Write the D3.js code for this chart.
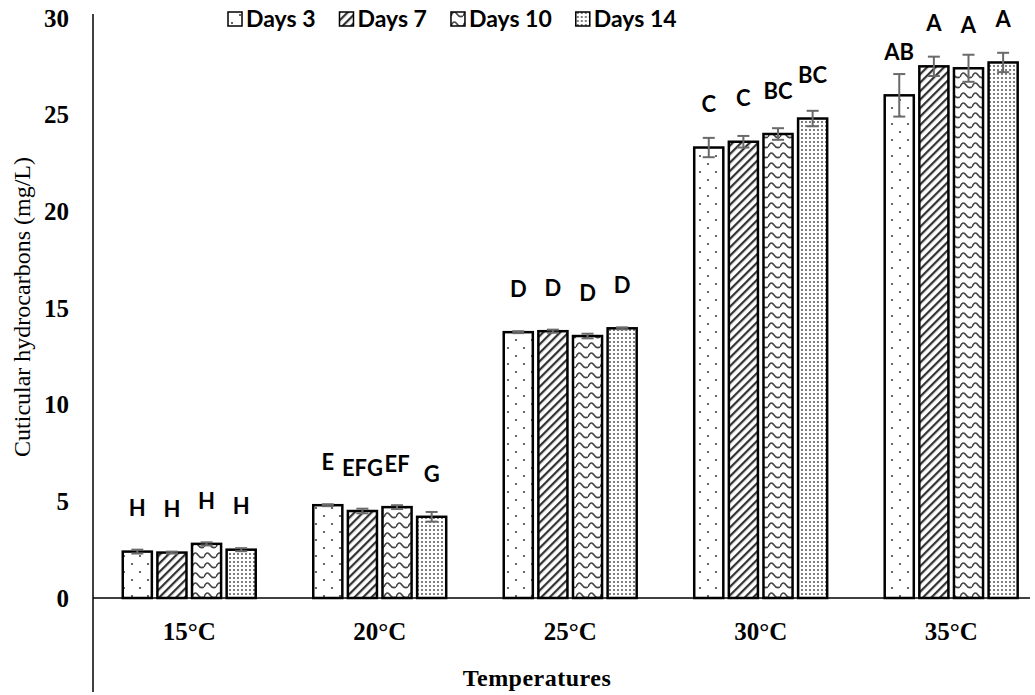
<!DOCTYPE html>
<head>
  <meta charset="utf-8">
  <script src="https://d3js.org/d3.v7.min.js"></script>
  <style>
    body { margin:0; background:white; }
    svg { display:block; }
    .tick text { font-family: "Liberation Serif", serif; font-weight: bold; font-size: 25px; }
  </style>
</head>
<body>
<script>
// data
var temps = ["15°C", "20°C", "25°C", "30°C", "35°C"];
var series = ["Days 3", "Days 7", "Days 10", "Days 14"];
var day3  = [2.4, 4.8, 13.75, 23.3, 26.0];
var day7  = [2.35, 4.5, 13.8, 23.6, 27.5];
var day10 = [2.8, 4.7, 13.55, 24.0, 27.4];
var day14 = [2.5, 4.2, 13.95, 24.8, 27.7];
var err3  = [0.1, 0.05, 0.05, 0.5, 1.1];
var err7  = [0.05, 0.12, 0.08, 0.3, 0.5];
var err10 = [0.08, 0.1, 0.12, 0.3, 0.7];
var err14 = [0.08, 0.25, 0.05, 0.4, 0.5];
var let3  = ["H", "E", "D", "C", "AB"];
var let7  = ["H", "EFG", "D", "C", "A"];
var let10 = ["H", "EF", "D", "BC", "A"];
var let14 = ["H", "G", "D", "BC", "A"];
var yTicks = [0, 5, 10, 15, 20, 25, 30];

var vals = [day3, day7, day10, day14];
var errs = [err3, err7, err10, err14];
var lets = [let3, let7, let10, let14];

var width = 1035, height = 695;
var svg = d3.select("body").append("svg").attr("width", width).attr("height", height);

// fill patterns
var defs = svg.append("defs");
var p0 = defs.append("pattern").attr("id", "pat0").attr("patternUnits", "userSpaceOnUse")
  .attr("width", 16).attr("height", 16);
p0.append("rect").attr("width", 16).attr("height", 16).attr("fill", "white");
p0.append("circle").attr("cx", 4).attr("cy", 4).attr("r", 1.1).attr("fill", "#444");
p0.append("circle").attr("cx", 12).attr("cy", 12).attr("r", 1.1).attr("fill", "#444");

var p1 = defs.append("pattern").attr("id", "pat1").attr("patternUnits", "userSpaceOnUse")
  .attr("width", 6).attr("height", 6).attr("patternTransform", "rotate(45)");
p1.append("rect").attr("width", 6).attr("height", 6).attr("fill", "white");
p1.append("line").attr("x1", 0).attr("y1", 0).attr("x2", 0).attr("y2", 6)
  .attr("stroke", "#333").attr("stroke-width", 4.5);

var p2 = defs.append("pattern").attr("id", "pat2").attr("patternUnits", "userSpaceOnUse")
  .attr("width", 12).attr("height", 10);
p2.append("rect").attr("width", 12).attr("height", 10).attr("fill", "white");
p2.append("path").attr("d", "M0,7 Q3,1 6,4 Q9,7 12,7")
  .attr("d", "M0,7 C2,2 4,2 6,5 C8,8 10,8 12,7")
  .attr("fill", "none").attr("stroke", "#444").attr("stroke-width", 1.6);

var p3 = defs.append("pattern").attr("id", "pat3").attr("patternUnits", "userSpaceOnUse")
  .attr("width", 4).attr("height", 4);
p3.append("rect").attr("width", 4).attr("height", 4).attr("fill", "white");
p3.append("circle").attr("cx", 2).attr("cy", 2).attr("r", 1).attr("fill", "#555");

var x0 = d3.scaleBand().domain(temps).range([93, 1030])
  .paddingInner(0.302).paddingOuter(0.1105).align(0.707);
var x1 = d3.scaleBand().domain(series).range([0, x0.bandwidth()]).paddingInner(0.16);
var y = d3.scaleLinear().domain([0, 30]).range([598, 18]);

// y axis
var yAxis = svg.append("g").attr("transform", "translate(93,0)")
  .call(d3.axisLeft(y).tickValues(yTicks).tickSize(0).tickPadding(24));
yAxis.select(".domain").remove();
svg.append("line").attr("x1", 93).attr("x2", 93).attr("y1", y(30) - 4).attr("y2", 692)
  .attr("stroke", "black").attr("stroke-width", 1.5);

series.forEach(function(s, si) {
  var rows = temps.map(function(t, ti) {
    return { t: t, v: vals[si][ti], e: errs[si][ti], l: lets[si][ti] };
  });
  var bx = function(d) { return x0(d.t) + x1(s); };
  var cx = function(d) { return x0(d.t) + x1(s) + x1.bandwidth() / 2; };

  svg.selectAll("rect.b" + si).data(rows).enter().append("rect")
    .attr("class", "b" + si)
    .attr("x", bx).attr("width", x1.bandwidth())
    .attr("y", function(d) { return y(d.v); })
    .attr("height", function(d) { return y(0) - y(d.v); })
    .attr("fill", "url(#pat" + si + ")")
    .attr("stroke", "black").attr("stroke-width", 2.5);

  var eb = svg.selectAll("g.e" + si).data(rows).enter().append("g").attr("class", "e" + si)
    .attr("stroke", "#6a6a6a").attr("stroke-width", 2);
  eb.append("line").attr("x1", cx).attr("x2", cx)
    .attr("y1", function(d) { return y(d.v - d.e); }).attr("y2", function(d) { return y(d.v + d.e); });
  eb.append("line").attr("x1", function(d) { return cx(d) - 6; }).attr("x2", function(d) { return cx(d) + 6; })
    .attr("y1", function(d) { return y(d.v + d.e); }).attr("y2", function(d) { return y(d.v + d.e); });
  eb.append("line").attr("x1", function(d) { return cx(d) - 6; }).attr("x2", function(d) { return cx(d) + 6; })
    .attr("y1", function(d) { return y(d.v - d.e); }).attr("y2", function(d) { return y(d.v - d.e); });

  svg.selectAll("text.l" + si).data(rows).enter().append("text")
    .attr("class", "l" + si)
    .attr("x", cx).attr("y", function(d) { return y(d.v) - 43; })
    .attr("dy", "0.35em").attr("text-anchor", "middle")
    .style("font-family", "Lato, 'Open Sans', sans-serif").style("font-weight", "bold").style("font-size", "22px")
    .text(function(d) { return d.l; });
});

// x axis line
svg.append("line").attr("x1", 93).attr("x2", 1030).attr("y1", y(0)).attr("y2", y(0))
  .attr("stroke", "black").attr("stroke-width", 1.5);

svg.selectAll("text.cat").data(temps).enter().append("text")
  .attr("class", "cat")
  .attr("x", function(d) { return x0(d) + x0.bandwidth() / 2; })
  .attr("y", 631).attr("dy", "0.35em").attr("text-anchor", "middle")
  .style("font-family", "'Liberation Serif', serif").style("font-weight", "bold").style("font-size", "25px")
  .text(function(d) { return d; });

svg.append("text").attr("x", 537).attr("y", 678).attr("dy", "0.35em").attr("text-anchor", "middle")
  .style("font-family", "'Liberation Serif', serif").style("font-weight", "bold").style("font-size", "24px")
  .style("letter-spacing", "0.5px")
  .text("Temperatures");

svg.append("text").attr("transform", "translate(22,307) rotate(-90)").attr("dy", "0.35em")
  .attr("text-anchor", "middle")
  .style("font-family", "'Liberation Serif', serif").style("font-size", "24px")
  .text("Cuticular hydrocarbons (mg/L)");

// legend, laid out left to right
var legX = 228;
series.forEach(function(s, i) {
  var g = svg.append("g").attr("transform", "translate(" + legX + ",19)");
  g.append("rect").attr("x", 0).attr("y", -7).attr("width", 14).attr("height", 14)
    .attr("fill", "url(#pat" + i + ")")
    .attr("stroke", "black").attr("stroke-width", 1.5);
  var t = g.append("text").attr("x", 18).attr("dy", "0.35em")
    .style("font-family", "Lato, 'Open Sans', sans-serif").style("font-weight", "bold").style("font-size", "23px")
    .text(s);
  legX += 18 + t.node().getComputedTextLength() + 24;
});
</script>
</body>
